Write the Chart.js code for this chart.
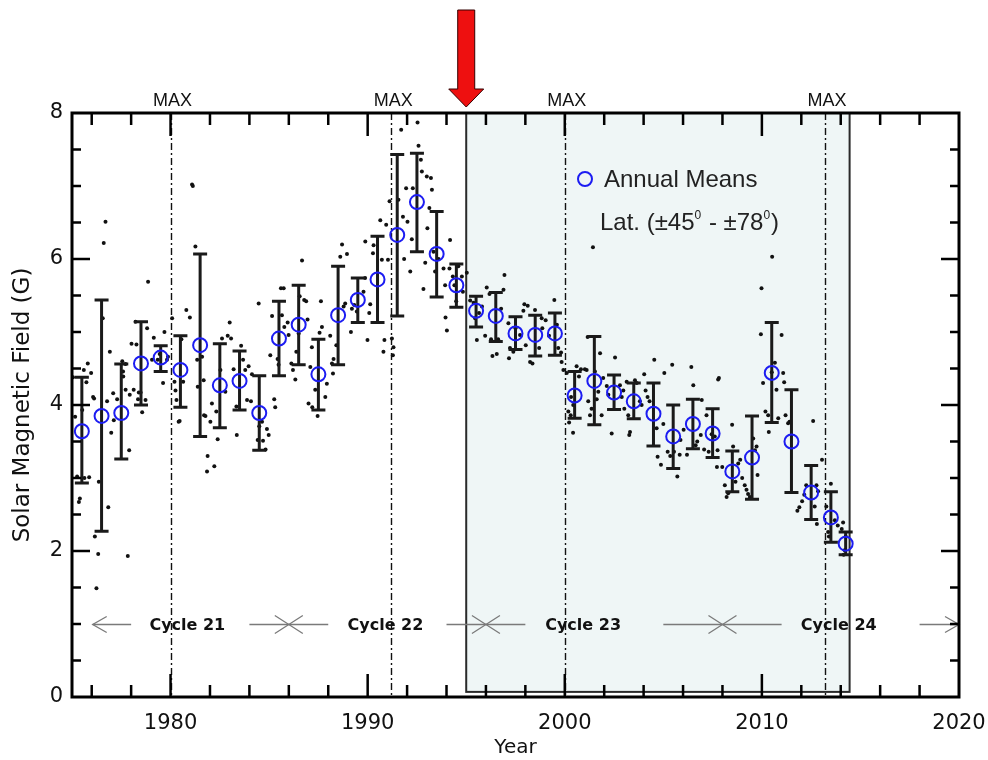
<!DOCTYPE html>
<html>
<head>
<meta charset="utf-8">
<script src="https://cdn.jsdelivr.net/npm/chart.js@4.4.0/dist/chart.umd.min.js"></script>
<style>
html,body{margin:0;padding:0;background:#fff;}
#wrap{width:988px;height:760px;}
</style>
</head>
<body>
<div id="wrap"><canvas id="myChart" width="988" height="760"></canvas></div>
<script>
// annual means of the polar field, with their spread
const meanYears = [1975.5,1976.5,1977.5,1978.5,1979.5,1980.5,1981.5,1982.5,1983.5,1984.5,
  1985.5,1986.5,1987.5,1988.5,1989.5,1990.5,1991.5,1992.5,1993.5,1994.5,
  1995.5,1996.5,1997.5,1998.5,1999.5,2000.5,2001.5,2002.5,2003.5,2004.5,
  2005.5,2006.5,2007.5,2008.5,2009.5,2010.5,2011.5,2012.5,2013.5,2014.25];
const annualMean = [3.64,3.85,3.89,4.57,4.65,4.48,4.82,4.27,4.33,3.89,
  4.91,5.10,4.42,5.23,5.44,5.72,6.33,6.78,6.07,5.64,
  5.29,5.22,4.98,4.96,4.98,4.13,4.33,4.17,4.05,3.88,
  3.57,3.74,3.61,3.09,3.28,4.44,3.50,2.80,2.46,2.10];
const errHigh = [4.38,5.44,4.56,5.14,4.81,4.95,6.07,4.84,4.74,4.40,
  5.42,5.64,4.90,5.90,5.74,6.31,7.43,7.45,6.65,5.93,
  5.49,5.54,5.21,5.23,5.26,4.46,4.94,4.41,4.30,4.30,
  4.00,4.08,3.95,3.37,3.85,5.13,4.21,3.17,2.81,2.26];
const errLow = [2.93,2.27,3.26,4.00,4.46,3.97,3.57,3.69,3.93,3.38,
  4.40,4.55,3.93,4.55,5.13,5.13,5.22,6.10,5.48,5.34,
  5.07,4.87,4.76,4.67,4.68,3.82,3.73,3.94,3.81,3.44,
  3.13,3.40,3.28,2.81,2.71,3.76,2.80,2.43,2.12,1.95];

// individual (sub-annual) field values: [year, G]
const monthly = [
  [1975.05,4.38],[1975.16,3.84],[1975.26,3.02],[1975.35,2.67],[1975.40,2.72],[1975.52,3.93],[1975.60,4.48],[1975.63,3.00],[1975.73,4.31],[1975.80,4.57],[1975.87,3.01],[1975.97,4.44],
  [1976.07,4.11],[1976.12,4.09],[1976.16,2.20],[1976.24,1.49],[1976.33,1.96],[1976.36,2.95],[1976.56,5.19],[1976.61,6.22],[1976.70,6.51],[1976.78,4.05],[1976.84,2.60],[1976.92,4.73],
  [1976.99,3.62],[1977.09,4.16],[1977.12,3.79],[1977.29,4.08],[1977.55,4.60],[1977.59,4.46],[1977.60,4.39],[1977.71,4.56],[1977.72,4.21],[1977.83,1.93],[1977.90,3.38],[1977.93,4.14],
  [1978.02,4.84],[1978.13,4.21],[1978.22,5.14],[1978.27,4.83],[1978.35,4.08],[1978.39,4.17],[1978.48,4.17],[1978.56,3.90],[1978.73,4.07],[1978.81,5.05],[1978.86,5.69],
  [1979.06,4.62],[1979.15,4.92],[1979.35,4.62],[1979.45,4.70],[1979.62,4.30],[1979.69,5.00],[1979.82,4.62],[1979.87,4.66],
  [1980.08,5.19],[1980.20,4.32],[1980.25,4.20],[1980.30,4.07],[1980.41,3.77],[1980.46,3.78],[1980.55,4.90],[1980.64,4.32],[1980.80,5.30],[1980.98,5.20],
  [1981.09,7.02],[1981.13,7.00],[1981.26,6.17],[1981.35,4.62],[1981.38,4.25],[1981.60,4.66],[1981.68,4.34],[1981.70,3.86],[1981.77,3.85],[1981.85,3.09],[1981.88,3.30],
  [1982.02,3.77],[1982.10,4.02],[1982.22,3.16],[1982.32,3.91],[1982.39,3.53],[1982.53,4.48],[1982.61,4.91],[1982.78,4.18],[1982.90,4.95],
  [1983.00,5.13],[1983.07,4.91],[1983.20,4.49],[1983.34,3.98],[1983.36,3.59],[1983.58,4.81],[1983.68,4.62],[1983.79,4.48],[1983.88,4.07],[1983.96,4.53],
  [1984.08,4.05],[1984.13,4.42],[1984.42,3.52],[1984.47,5.39],[1984.50,3.71],[1984.64,3.77],[1984.69,3.51],[1984.82,3.39],[1984.89,3.67],[1984.98,3.59],
  [1985.06,4.68],[1985.15,5.22],[1985.26,4.08],[1985.31,3.97],[1985.43,4.63],[1985.48,4.55],[1985.60,5.60],[1985.65,5.23],[1985.74,5.60],[1985.77,5.07],[1985.94,5.13],[1985.99,4.96],
  [1986.13,4.57],[1986.21,4.48],[1986.33,4.35],[1986.38,4.73],[1986.50,4.98],[1986.55,5.49],[1986.67,5.98],[1986.78,5.44],[1986.88,5.42],[1986.95,5.17],
  [1987.00,4.02],[1987.09,4.52],[1987.17,4.79],[1987.19,3.97],[1987.34,4.21],[1987.46,3.85],[1987.56,4.99],[1987.63,5.42],[1987.68,5.07],[1987.85,4.11],[1987.93,4.29],
  [1988.10,4.95],[1988.19,4.57],[1988.24,4.43],[1988.27,4.63],[1988.41,4.82],[1988.61,6.03],[1988.70,6.20],[1988.78,5.35],[1988.86,5.39],[1988.95,6.07],
  [1989.15,5.00],[1989.20,5.32],[1989.32,5.37],[1989.45,5.28],[1989.79,5.55],[1989.87,5.74],[1989.88,6.24],[1989.99,4.89],
  [1990.08,5.26],[1990.13,5.38],[1990.27,6.08],[1990.30,6.19],[1990.64,6.53],[1990.72,5.99],[1990.80,4.73],[1990.85,4.89],[1990.94,6.47],
  [1991.03,5.99],[1991.11,6.79],[1991.23,4.91],[1991.28,4.68],[1991.31,4.79],[1991.56,6.81],[1991.70,7.77],[1991.79,6.58],[1991.85,6.00],[1991.95,6.97],
  [1992.02,6.51],[1992.16,5.83],[1992.24,6.27],[1992.29,6.97],[1992.53,7.87],[1992.58,7.55],[1992.70,7.36],[1992.75,7.20],[1992.83,5.59],[1992.92,5.95],
  [1993.00,7.13],[1993.03,6.42],[1993.13,6.70],[1993.21,7.11],[1993.26,6.95],[1993.34,6.10],[1993.42,5.83],[1993.60,6.00],[1993.85,5.87],[1993.93,5.64],[1993.95,5.20],
  [1994.02,5.02],[1994.15,5.87],[1994.18,6.26],[1994.32,5.76],[1994.40,5.64],[1994.49,5.42],[1994.60,5.90],[1994.78,5.76],[1994.83,5.55],
  [1995.03,5.81],[1995.20,5.43],[1995.37,5.40],[1995.45,5.19],[1995.54,4.89],[1995.65,5.26],[1995.80,5.35],[1995.96,4.95],
  [1996.04,5.61],[1996.18,5.52],[1996.26,4.90],[1996.33,4.67],[1996.55,4.70],[1996.62,4.90],[1996.77,5.32],[1996.89,5.58],[1996.94,5.78],
  [1997.14,5.12],[1997.17,4.64],[1997.22,4.78],[1997.39,4.73],[1997.50,5.05],[1997.73,4.96],[1997.90,5.29],[1997.95,5.38],
  [1998.02,4.82],[1998.12,5.36],[1998.24,4.59],[1998.36,4.57],[1998.49,5.30],[1998.70,4.78],[1998.83,5.19],[1998.86,5.05],
  [1999.03,5.16],[1999.20,4.95],[1999.47,5.44],[1999.60,5.10],[1999.67,4.78],[1999.81,4.72],[1999.84,4.59],[1999.93,4.48],
  [2000.10,4.44],[2000.18,3.91],[2000.22,3.76],[2000.30,3.86],[2000.32,4.11],[2000.42,3.62],[2000.43,4.00],[2000.60,4.53],[2000.72,4.39],[2000.82,4.49],
  [2001.02,4.49],[2001.11,4.48],[2001.16,4.93],[2001.19,4.05],[2001.28,3.86],[2001.36,3.95],[2001.43,6.16],[2001.53,4.46],[2001.62,4.08],[2001.70,4.18],[2001.79,4.71],[2001.87,3.86],[2001.95,4.37],
  [2002.13,4.26],[2002.21,4.14],[2002.38,3.61],[2002.55,4.65],[2002.80,4.27],[2002.89,4.11],[2002.97,4.20],
  [2003.02,3.95],[2003.14,4.32],[2003.22,3.86],[2003.27,3.59],[2003.31,3.63],[2003.56,4.34],[2003.65,4.30],[2003.81,4.05],[2003.90,4.00],
  [2004.03,4.42],[2004.10,4.20],[2004.20,4.11],[2004.30,4.05],[2004.54,4.62],[2004.66,3.68],[2004.71,3.29],[2004.88,3.18],
  [2005.00,3.74],[2005.05,4.44],[2005.22,3.36],[2005.35,3.30],[2005.45,4.55],[2005.54,3.36],[2005.71,3.02],[2005.83,3.32],[2005.87,3.52],
  [2006.03,3.66],[2006.20,3.32],[2006.42,4.52],[2006.52,4.27],[2006.64,3.45],[2006.72,3.50],[2006.90,3.59],[2006.95,4.07],
  [2007.07,3.39],[2007.19,3.86],[2007.30,3.36],[2007.45,3.60],[2007.61,3.57],[2007.72,3.15],[2007.75,3.38],[2007.78,4.35],[2007.82,4.37],[2007.99,3.15],
  [2008.12,2.90],[2008.21,2.74],[2008.29,2.79],[2008.49,3.73],[2008.54,3.43],[2008.66,2.95],[2008.80,3.20],[2008.90,3.25],
  [2009.00,3.00],[2009.13,2.90],[2009.22,2.84],[2009.30,2.78],[2009.39,2.74],[2009.56,3.54],[2009.65,3.38],[2009.73,3.43],[2009.78,3.04],[2009.95,4.97],[2009.98,5.60],
  [2010.06,4.30],[2010.18,3.91],[2010.32,3.86],[2010.35,3.63],[2010.50,4.45],[2010.52,6.03],[2010.66,4.58],[2010.74,4.21],[2010.83,3.82],
  [2011.00,4.96],[2011.08,4.44],[2011.13,4.31],[2011.20,3.86],[2011.33,3.75],[2011.40,3.77],[2011.80,2.55],
  [2011.90,2.60],[2012.04,2.68],[2012.15,2.77],[2012.25,2.90],[2012.60,3.78],[2012.68,2.61],[2012.77,2.90],[2012.79,2.37],[2012.85,2.82],
  [2013.05,3.25],[2013.27,2.61],[2013.36,2.26],[2013.40,2.20],[2013.50,2.92],[2013.70,2.42],[2013.85,2.35],
  [2014.05,2.30],[2014.12,2.39],[2014.15,1.95],[2014.20,2.01],[2014.25,2.20]
];

// solar maxima, cycle boundaries, labels
const maxYears = [1980.0, 1991.2, 2000.0, 2013.2];
const cycleNames = ['Cycle 21', 'Cycle 22', 'Cycle 23', 'Cycle 24'];
const cycleLabelYears = [1980.85, 1990.9, 2000.93, 2013.9];
const cycleMinima = [1986.0, 1996.0, 2008.0];
const cycleSegments = [[1976.05,1978.0],[1984.0,1988.0],[1994.0,1998.0],[2005.0,2011.0],[2018.0,2020.0]];
const cycleRowValue = 1.0;
const shadeFrom = 1995.0, shadeTo = 2014.45, shadeBottom = 0.07;

const xTickYears = [1980, 1990, 2000, 2010, 2020];
const yTickValues = [0, 2, 4, 6, 8];

const numFont = "'DejaVu Sans', sans-serif";
const helv = "'Liberation Sans', Arial, sans-serif";
const blue = '#1c1cf2';

const ctx = document.getElementById('myChart');

const decorations = {
  id: 'decorations',
  beforeDatasetsDraw(chart) {
    const c = chart.ctx, a = chart.chartArea, x = chart.scales.x, y = chart.scales.y;
    c.save();
    // shaded interval
    const x0 = x.getPixelForValue(shadeFrom), x1 = x.getPixelForValue(shadeTo);
    const yt = y.getPixelForValue(8), yb = y.getPixelForValue(shadeBottom);
    c.fillStyle = '#eff6f6';
    c.fillRect(x0, yt, x1 - x0, yb - yt);
    c.strokeStyle = '#2a2a2a';
    c.lineWidth = 2;
    c.strokeRect(x0, yt, x1 - x0, yb - yt);

    // dash-dot lines at each maximum
    c.strokeStyle = '#111';
    c.lineWidth = 1.4;
    c.setLineDash([7, 3, 2, 3]);
    maxYears.forEach(m => {
      const px = Math.round(x.getPixelForValue(m)) + 0.5;
      c.beginPath(); c.moveTo(px, a.top); c.lineTo(px, a.bottom); c.stroke();
    });
    c.setLineDash([]);

    // cycle row
    const ry = Math.round(y.getPixelForValue(cycleRowValue)) + 0.5;
    c.strokeStyle = '#7a7a7a';
    c.lineWidth = 1.3;
    cycleSegments.forEach(s => {
      c.beginPath(); c.moveTo(x.getPixelForValue(s[0]), ry); c.lineTo(x.getPixelForValue(s[1]), ry); c.stroke();
    });
    const lx = x.getPixelForValue(cycleSegments[0][0]);
    const rx = x.getPixelForValue(cycleSegments[cycleSegments.length - 1][1]);
    c.beginPath();
    c.moveTo(lx + 14, ry - 8); c.lineTo(lx, ry); c.lineTo(lx + 14, ry + 8);
    c.moveTo(rx - 14, ry - 8); c.lineTo(rx, ry); c.lineTo(rx - 14, ry + 8);
    c.stroke();
    cycleMinima.forEach(m => {
      const px = x.getPixelForValue(m);
      c.beginPath();
      c.moveTo(px - 14, ry - 9); c.lineTo(px + 14, ry + 9);
      c.moveTo(px - 14, ry + 9); c.lineTo(px + 14, ry - 9);
      c.stroke();
    });
    c.fillStyle = '#111';
    c.font = "bold 16px " + numFont;
    c.textAlign = 'center';
    c.textBaseline = 'middle';
    cycleNames.forEach((n, i) => c.fillText(n, x.getPixelForValue(cycleLabelYears[i]), ry + 1));
    c.restore();
  },
  afterDatasetDraw(chart, args) {
    if (args.index !== 0) return;
    // error bars sit between the scatter and the annual circles
    const c = chart.ctx, x = chart.scales.x, y = chart.scales.y;
    c.save();
    c.strokeStyle = '#1a1a1a';
    c.lineWidth = 3;
    meanYears.forEach((yr, i) => {
      const px = x.getPixelForValue(yr);
      const hi = y.getPixelForValue(errHigh[i]), lo = y.getPixelForValue(errLow[i]);
      c.beginPath();
      c.moveTo(px, hi); c.lineTo(px, lo);
      c.moveTo(px - 7, hi); c.lineTo(px + 7, hi);
      c.moveTo(px - 7, lo); c.lineTo(px + 7, lo);
      c.stroke();
    });
    c.restore();
  },
  afterDraw(chart) {
    const c = chart.ctx, a = chart.chartArea, x = chart.scales.x, y = chart.scales.y;
    c.save();
    // inward ticks on all four sides
    c.strokeStyle = '#000';
    c.lineWidth = 2.5;
    c.beginPath();
    for (let v = 1976; v < 2020; v += 2) {
      const px = x.getPixelForValue(v);
      const len = v % 10 === 0 ? 23 : 12;
      c.moveTo(px, a.bottom); c.lineTo(px, a.bottom - len);
      c.moveTo(px, a.top); c.lineTo(px, a.top + len);
    }
    for (let v = 0.5; v < 8; v += 0.5) {
      const py = y.getPixelForValue(v);
      const len = v % 2 === 0 ? 18 : 9;
      c.moveTo(a.left, py); c.lineTo(a.left + len, py);
      c.moveTo(a.right, py); c.lineTo(a.right - len, py);
    }
    c.stroke();
    c.lineWidth = 3;
    c.strokeRect(a.left, a.top, a.right - a.left, a.bottom - a.top);

    // MAX labels above the frame
    c.fillStyle = '#111';
    c.font = '18px ' + helv;
    c.textAlign = 'center';
    c.textBaseline = 'alphabetic';
    maxYears.forEach(m => c.fillText('MAX', x.getPixelForValue(m) + 2, a.top - 7));

    // red pointer at the start of the shaded interval
    const ax = x.getPixelForValue(shadeFrom);
    c.fillStyle = '#ee1010';
    c.strokeStyle = '#300';
    c.lineWidth = 1;
    c.beginPath();
    c.moveTo(ax - 8.5, 10); c.lineTo(ax + 8.5, 10); c.lineTo(ax + 8.5, 89);
    c.lineTo(ax + 17.5, 89); c.lineTo(ax, a.top - 6); c.lineTo(ax - 17.5, 89);
    c.lineTo(ax - 8.5, 89); c.closePath();
    c.fill(); c.stroke();

    // legend
    c.strokeStyle = blue;
    c.lineWidth = 2;
    c.beginPath(); c.arc(585, 179, 7, 0, Math.PI * 2); c.stroke();
    c.fillStyle = '#222';
    c.textAlign = 'left';
    c.font = '24px ' + helv;
    c.fillText('Annual Means', 604, 187);
    let tx = 600;
    [['Lat. (\u00b145', false], ['0', true], [' - \u00b178', false], ['0', true], [')', false]].forEach(([t, sup]) => {
      c.font = (sup ? '12px ' : '24px ') + helv;
      c.fillText(t, tx, sup ? 219 : 230);
      tx += c.measureText(t).width + (sup ? 1 : 0);
    });
    c.restore();
  }
};

new Chart(ctx, {
  type: 'scatter',
  data: {
    datasets: [{
      label: 'Monthly',
      data: monthly.map(p => ({x: p[0], y: p[1]})),
      pointRadius: 2,
      pointBorderWidth: 0,
      pointBackgroundColor: '#111',
      order: 2
    }, {
      label: 'Annual Means',
      data: meanYears.map((yr, i) => ({x: yr, y: annualMean[i]})),
      pointRadius: 7,
      pointBorderWidth: 2,
      pointBorderColor: blue,
      pointBackgroundColor: 'rgba(0,0,0,0)',
      order: 1
    }]
  },
  options: {
    responsive: false,
    animation: false,
    events: [],
    layout: {padding: {top: 113, right: 29, left: 0, bottom: 0}},
    plugins: {legend: {display: false}, tooltip: {enabled: false}},
    scales: {
      x: {
        type: 'linear', min: 1975, max: 2020,
        afterBuildTicks: s => { s.ticks = xTickYears.map(v => ({value: v})); },
        afterFit: s => { s.height = 63; s.paddingLeft = 0; s.paddingRight = 0; },
        grid: {display: false, drawTicks: false},
        border: {display: false},
        ticks: {font: {family: numFont, size: 21}, color: '#111', padding: 14, maxRotation: 0, callback: v => String(v)},
        title: {display: true, text: 'Year', font: {family: numFont, size: 20}, color: '#111', padding: {top: 0, bottom: 0}}
      },
      y: {
        min: 0, max: 8,
        afterBuildTicks: s => { s.ticks = yTickValues.map(v => ({value: v})); },
        afterFit: s => { s.width = 72; s.paddingTop = 0; s.paddingBottom = 0; },
        grid: {display: false, drawTicks: false},
        border: {display: false},
        ticks: {font: {family: numFont, size: 21}, color: '#111', padding: 9, callback: v => String(v)},
        title: {display: true, text: 'Solar Magnetic Field (G)', font: {family: numFont, size: 23}, color: '#111', padding: {top: 9, bottom: 0}}
      }
    }
  },
  plugins: [decorations]
});
</script>
</body>
</html>
